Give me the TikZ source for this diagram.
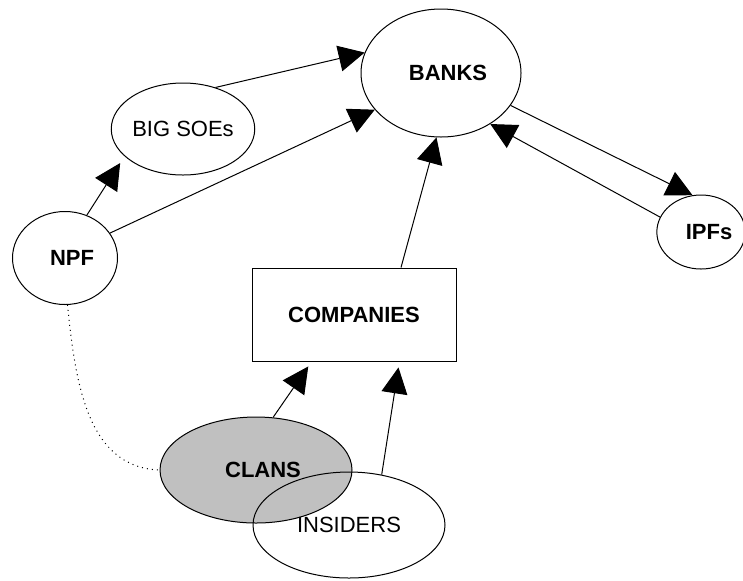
\documentclass[tikz,border=0pt]{standalone}
\usepackage{fontspec}
\setmainfont{Liberation Sans}
\usetikzlibrary{arrows.meta,shapes.geometric}
\definecolor{clangray}{RGB}{192,192,192}
\tikzstyle{party}=[ellipse, draw, inner sep=0pt, line width=0.5pt, font=\fontsize{11}{13}\selectfont]
\tikzstyle{boldparty}=[party, font=\fontsize{11}{13}\selectfont\bfseries]
\tikzstyle{firm}=[rectangle, draw, inner sep=0pt, line width=0.5pt, font=\fontsize{11}{13}\selectfont\bfseries]
\newcommand{\party}{\node[party]}
\newcommand{\boldparty}{\node[boldparty]}

\begin{document}
\begin{tikzpicture}[x=0.5pt, y=-0.5pt
    ,every edge/.style={draw, line width=0.5pt,
        -{Triangle[length=13pt,width=13pt]}}
]
\useasboundingbox (0,0) rectangle (743,580);
\boldparty[minimum width=80pt, minimum height=64pt] (banks) at (441,73) {\hspace*{7pt}BANKS};
\party[minimum width=68.5pt, minimum height=46pt] (bigsoe) at (183,129) {BIG SOEs};
\boldparty[minimum width=52.5pt, minimum height=46.5pt] (npf) at (65,258) {\hspace*{7pt}NPF};
\boldparty[minimum width=43pt, minimum height=37pt] (ipfs) at (701,232) {\hspace*{8pt}IPFs};
\node[firm, minimum width=102pt, minimum height=46.5pt] (companies) at (354,314.5) {COMPANIES};
\boldparty[minimum width=96pt, minimum height=53pt, fill=clangray] (clans) at (256,470) {\hspace*{7pt}CLANS};
\party[minimum width=96pt, minimum height=53pt] (insiders) at (349,525) {INSIDERS};
\path
(bigsoe.52) edge (banks.165)
(npf.29) edge (banks.209)
(npf.63) edge[shorten >=4pt] (bigsoe.205)
(companies.45) edge (banks.266)
(banks.335) edge (ipfs.103)
(ipfs.160) edge (banks.314)
(clans.72) edge[shorten >=3pt] (companies.228)
(insiders.57) edge[shorten >=3pt] (companies.314)
;
\draw[dotted, line width=0.5pt] (npf.273) to[out=-84, in=178] (clans.180);
\end{tikzpicture}
\end{document}
